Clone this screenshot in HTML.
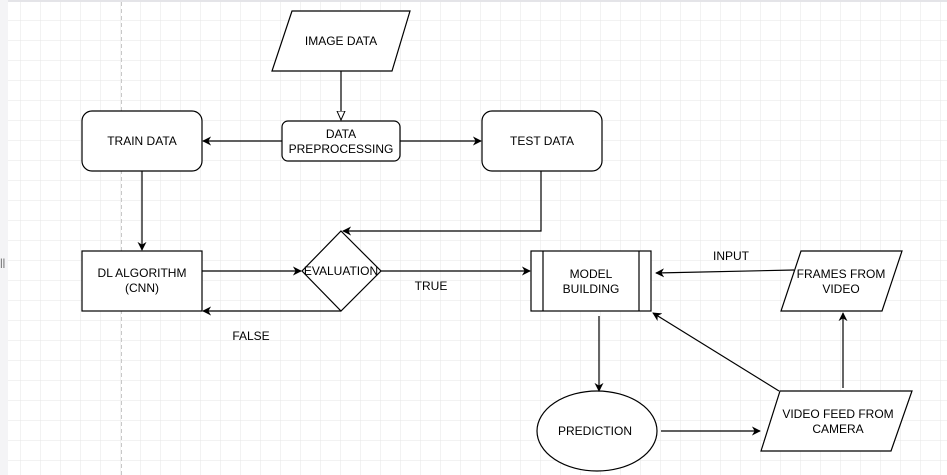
<!DOCTYPE html>
<html><head><style>
body{margin:0;width:947px;height:475px;overflow:hidden;background:#fff;}
svg{display:block;font-family:"Liberation Sans",Arial,sans-serif;font-size:12px;}
</style></head><body>
<svg width="947" height="475" viewBox="0 0 947 475">
<defs>
<pattern id="g" x="1" y="1" width="20" height="20" patternUnits="userSpaceOnUse">
<path d="M20 0V20M0 20H20" fill="none" stroke="#e6e6e6" stroke-width="1"/>
</pattern>
<marker id="a" viewBox="0 0 10 10" refX="9" refY="5" markerWidth="9" markerHeight="9" orient="auto" markerUnits="userSpaceOnUse"><path d="M0 0L10 5L0 10L3 5Z" fill="#000"/></marker>
<marker id="h" viewBox="0 0 10 10" refX="9" refY="5" markerWidth="10" markerHeight="10" orient="auto" markerUnits="userSpaceOnUse"><path d="M0 1L9 5L0 9Z" fill="#fff" stroke="#000"/></marker>
</defs>
<rect width="947" height="475" fill="#fff"/>
<rect x="8" y="2" width="939" height="473" fill="url(#g)"/>
<rect x="0" y="0" width="947" height="2" fill="#e4e4e8"/>
<rect x="0" y="0" width="8" height="475" fill="#f4f4f6"/>
<line x1="121.5" y1="2" x2="121.5" y2="475" stroke="#c8c8c8" stroke-dasharray="4 3"/>
<text x="0" y="266" font-size="10" fill="#555">||</text>
<g fill="#fff" stroke="#000" stroke-width="1.2">
<polygon points="292,11 410,11 392,71 272,71"/>
<rect x="282" y="121" width="118" height="40" rx="6"/>
<rect x="82" y="111" width="120" height="60" rx="10"/>
<rect x="482" y="111" width="120" height="60" rx="10"/>
<rect x="82" y="251" width="120" height="60"/>
<polygon points="341,231 381,271 341,311 302,271"/>
<rect x="531" y="251" width="120" height="60"/>
<line x1="543" y1="251" x2="543" y2="311"/>
<line x1="639" y1="251" x2="639" y2="311"/>
<polygon points="801,251 902,251 882,311 781,311"/>
<ellipse cx="597" cy="431" rx="60" ry="40"/>
<polygon points="780,391 912,391 891,451 761,451"/>
</g>
<g stroke="#000" stroke-width="1.2" fill="none">
<line x1="341" y1="71" x2="341" y2="120" marker-end="url(#h)"/>
<line x1="282" y1="141" x2="203" y2="141" marker-end="url(#a)"/>
<line x1="400" y1="141" x2="481" y2="141" marker-end="url(#a)"/>
<line x1="142" y1="171" x2="142" y2="250" marker-end="url(#a)"/>
<polyline points="541,171 541,231 343,231" marker-end="url(#a)"/>
<line x1="202" y1="271" x2="301" y2="271" marker-end="url(#a)"/>
<line x1="381" y1="271" x2="530" y2="271" marker-end="url(#a)"/>
<line x1="341" y1="311" x2="203" y2="311" marker-end="url(#a)"/>
<line x1="794" y1="270" x2="656" y2="273" marker-end="url(#a)"/>
<line x1="599" y1="316" x2="599" y2="391" marker-end="url(#a)"/>
<line x1="661" y1="431" x2="760" y2="431" marker-end="url(#a)"/>
<line x1="779" y1="391" x2="653" y2="313" marker-end="url(#a)"/>
<line x1="843" y1="388" x2="843" y2="313" marker-end="url(#a)"/>
</g>
<g text-anchor="middle" fill="#000">
<text x="341" y="45">IMAGE DATA</text>
<text x="341" y="138">DATA</text>
<text x="341" y="153">PREPROCESSING</text>
<text x="142" y="145">TRAIN DATA</text>
<text x="542" y="145">TEST DATA</text>
<text x="142" y="277">DL ALGORITHM</text>
<text x="142" y="292">(CNN)</text>
<text x="341" y="275">EVALUATION</text>
<text x="431" y="290">TRUE</text>
<text x="251" y="340">FALSE</text>
<text x="591" y="278">MODEL</text>
<text x="591" y="293">BUILDING</text>
<text x="731" y="260">INPUT</text>
<text x="841" y="278">FRAMES FROM</text>
<text x="841" y="293">VIDEO</text>
<text x="595" y="435">PREDICTION</text>
<text x="838" y="418">VIDEO FEED FROM</text>
<text x="838" y="433">CAMERA</text>
</g>
</svg>
</body></html>
